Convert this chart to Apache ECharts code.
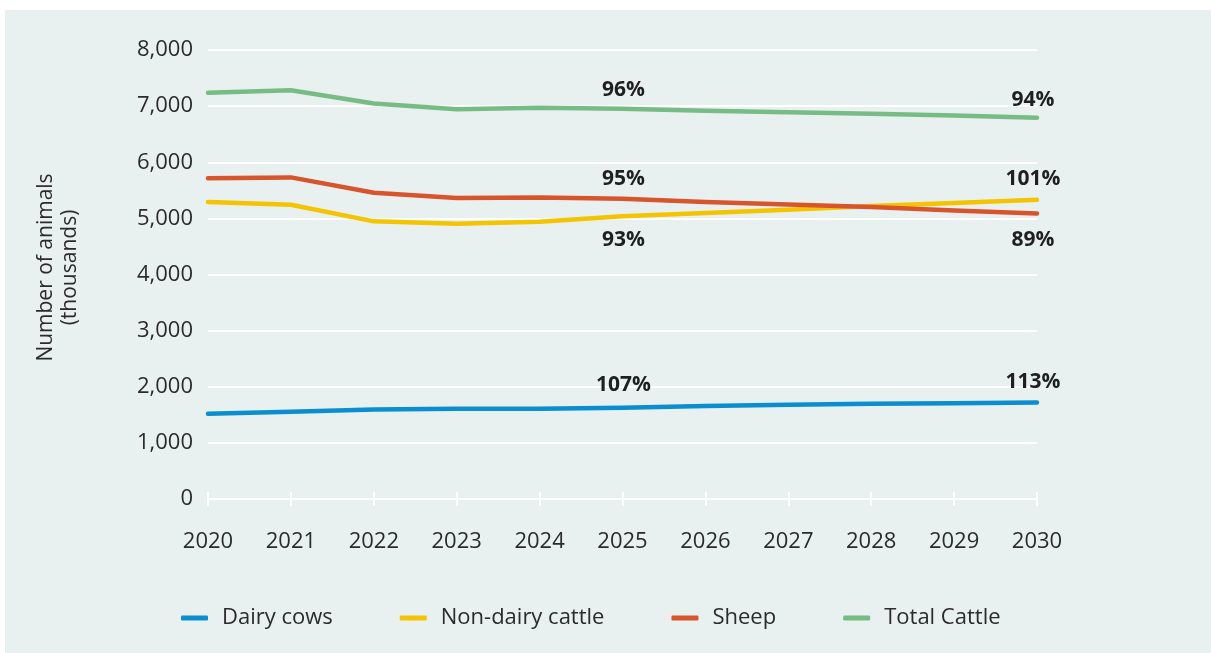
<!DOCTYPE html>
<html>
<head>
<meta charset="utf-8">
<script src="https://cdn.jsdelivr.net/npm/echarts@6/dist/echarts.min.js"></script>
<style>
  html, body { margin: 0; padding: 0; background: #ffffff; }
  #panel { position: absolute; left: 5px; top: 10px; width: 1206px; height: 643px; background: #e8f1ef; }
  #chart { position: absolute; left: 0; top: 0; width: 1211px; height: 653px; }
</style>
</head>
<body>
<div id="panel"></div>
<div id="chart"></div>
<script>
// Livestock numbers (thousands), 2020–2030
const years = ['2020', '2021', '2022', '2023', '2024', '2025', '2026', '2027', '2028', '2029', '2030'];
const dairyCows      = [1518, 1553, 1596, 1607, 1607, 1625, 1655, 1678, 1696, 1708, 1720];
const nonDairyCattle = [5290, 5243, 4947, 4905, 4941, 5036, 5094, 5154, 5219, 5272, 5332];
const sheep          = [5717, 5730, 5457, 5361, 5374, 5350, 5290, 5249, 5201, 5142, 5089];
const totalCattle    = [7240, 7283, 7046, 6945, 6970, 6952, 6916, 6892, 6863, 6833, 6792];

// Percentage annotations (relative to 2020) shown at 2025 and 2030
const dairyPct    = { '2025': '107%', '2030': '113%' };
const nonDairyPct = { '2025': '93%',  '2030': '101%' };
const sheepPct    = { '2025': '95%',  '2030': '89%' };
const totalPct    = { '2025': '96%',  '2030': '94%' };

const yTicks = [0, 1000, 2000, 3000, 4000, 5000, 6000, 7000, 8000];

const textColor = '#2b2b2b';
const fontFamily = '"Open Sans", "Noto Sans", sans-serif';

// label offsets (pixels from the point) per series and year
const labelOffsets = {
  dairy:    { '2025': [1, -23], '2030': [-4, -20] },
  nonDairy: { '2025': [1, 24],  '2030': [-4, -21] },
  sheep:    { '2025': [1, -20], '2030': [-4, 27] },
  total:    { '2025': [1, -19], '2030': [-4, -18] }
};

function buildData(values, pct, offsets) {
  return values.map((v, i) => {
    const yr = years[i];
    if (!pct[yr]) return { value: v };
    return {
      value: v,
      label: {
        show: true,
        position: 'inside',
        offset: offsets[yr],
        formatter: pct[yr],
        fontFamily: fontFamily,
        fontWeight: 'bold',
        fontSize: 21,
        color: '#1f1f1f'
      }
    };
  });
}

function lineSeries(name, color, values, pct, offsets) {
  return {
    name: name,
    type: 'line',
    xAxisIndex: 0,
    data: buildData(values, pct, offsets),
    showSymbol: true,
    symbol: 'circle',
    symbolSize: 0,
    itemStyle: { color: color },
    lineStyle: { color: color, width: 4.5, cap: 'round', join: 'round' },
    label: { show: false },
    emphasis: { disabled: true },
    animation: false,
    z: 3
  };
}

const chart = echarts.init(document.getElementById('chart'), null, { renderer: 'canvas' });

chart.setOption({
  backgroundColor: 'transparent',
  animation: false,
  grid: { left: 208, right: 174, top: 50, bottom: 154, containLabel: false },
  legend: {
    left: 176,
    top: 602,
    icon: 'roundRect',
    itemWidth: 27,
    itemHeight: 5,
    itemGap: 67,
    textStyle: { fontFamily: fontFamily, fontSize: 22, color: textColor, padding: [0, 0, 0, 9] },
    data: ['Dairy cows', 'Non-dairy cattle', 'Sheep', 'Total Cattle']
  },
  xAxis: [
    {
      type: 'category',
      data: years,
      boundaryGap: false,
      axisLine: { show: true, lineStyle: { color: '#ffffff', width: 2 } },
      axisTick: { show: true, length: 7, lineStyle: { color: '#ffffff', width: 2 } },
      axisLabel: { margin: 32, fontFamily: fontFamily, fontSize: 22, color: textColor },
      splitLine: { show: false }
    },
    {
      type: 'category',
      data: years,
      boundaryGap: false,
      position: 'bottom',
      axisLine: { show: false },
      axisTick: { show: true, inside: true, length: 7, lineStyle: { color: '#ffffff', width: 2 } },
      axisLabel: { show: false },
      splitLine: { show: false }
    }
  ],
  yAxis: {
    type: 'value',
    min: yTicks[0],
    max: yTicks[yTicks.length - 1],
    interval: yTicks[1] - yTicks[0],
    name: 'Number of animals\n(thousands)',
    nameLocation: 'middle',
    nameGap: 126,
    nameRotate: 90,
    nameTextStyle: { fontFamily: fontFamily, fontSize: 21, color: textColor, lineHeight: 24, padding: [0, 0, 0, 14] },
    axisLine: { show: false },
    axisTick: { show: false },
    axisLabel: {
      margin: 15,
      fontFamily: fontFamily,
      fontSize: 22,
      color: textColor,
      formatter: v => v.toLocaleString('en-US')
    },
    splitLine: { show: true, lineStyle: { color: '#ffffff', width: 2 } }
  },
  series: [
    lineSeries('Dairy cows', '#0a8ecf', dairyCows, dairyPct, labelOffsets.dairy),
    lineSeries('Non-dairy cattle', '#f5c400', nonDairyCattle, nonDairyPct, labelOffsets.nonDairy),
    lineSeries('Sheep', '#d8542d', sheep, sheepPct, labelOffsets.sheep),
    lineSeries('Total Cattle', '#77bc85', totalCattle, totalPct, labelOffsets.total)
  ]
});
</script>
</body>
</html>
